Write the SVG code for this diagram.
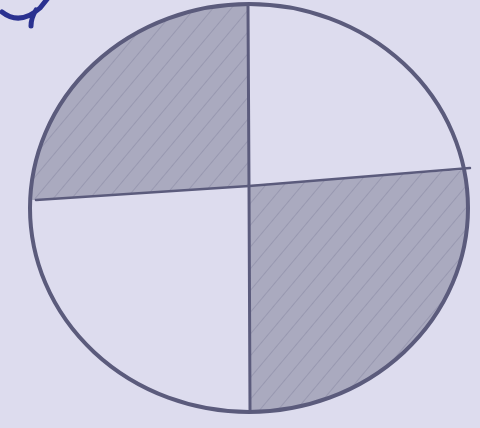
<svg xmlns="http://www.w3.org/2000/svg" width="480" height="428" viewBox="0 0 480 428">
<defs>
<style>
.ink{fill:none;stroke:#5b5b7c;stroke-linecap:round;stroke-linejoin:round}
.shade{fill:#aaaabf;stroke:none}
.hatch{fill:none;stroke:#9898b0;stroke-width:2}
</style>
<pattern id="hp" patternUnits="userSpaceOnUse" width="14" height="14" patternTransform="rotate(40)">
<line x1="0" y1="0" x2="0" y2="14" class="hatch"/>
</pattern>
</defs>
<rect width="480" height="428" fill="#dddcee"/>
<path d="M2 12 Q20 26 40 8 L48 -2 M36 10 Q31 18 31 26" fill="none" stroke="#2a3190" stroke-width="5" stroke-linecap="round"/>
<g id="shading">
<path class="shade" d="M31 200 A219 204 0 0 1 248 4 L248 186 Z"/>
<path fill="url(#hp)" d="M31 200 A219 204 0 0 1 248 4 L248 186 Z"/>
<path class="shade" d="M250 185 L464 170 A219 204 0 0 1 250 412 Z"/>
<path fill="url(#hp)" d="M250 185 L464 170 A219 204 0 0 1 250 412 Z"/>
</g>
<g id="outline">
<ellipse class="ink" cx="249" cy="208" rx="219" ry="204" stroke-width="4"/>
<path class="ink" d="M248 6 L249 186 L250 410" stroke-width="3"/>
<path class="ink" d="M36 200 L249 186 L470 168" stroke-width="2.5"/>
</g>
</svg>
